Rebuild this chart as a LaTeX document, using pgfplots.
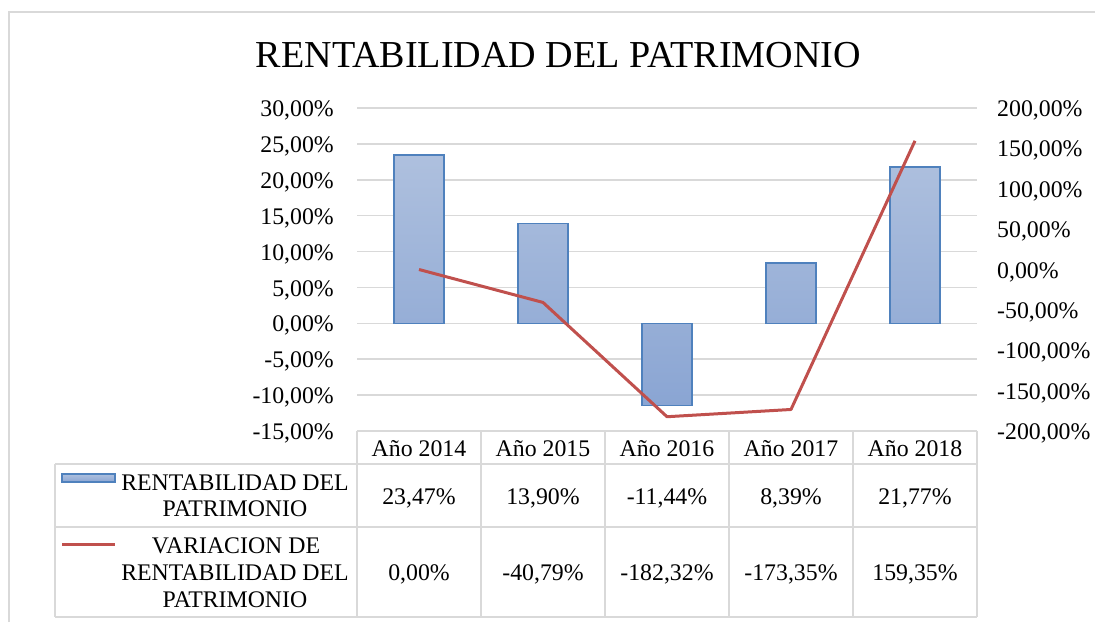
\documentclass[border=0pt]{standalone}
\usepackage{pgfplots}
\pgfplotsset{compat=1.18}
\usepackage{fontspec}
\setmainfont{Liberation Serif}
\definecolor{gridc}{HTML}{D9D9D9}
\definecolor{barEdge}{HTML}{4F81BD}
\definecolor{barTop}{HTML}{AEC0DE}
\definecolor{barBot}{HTML}{8AA5D3}
\definecolor{lineRed}{HTML}{C0504D}
\newcommand\tf{\fontsize{23.8}{26}\selectfont}
\begin{document}
\begin{tikzpicture}
\useasboundingbox (0,0) rectangle (1095pt,622pt);
\begin{axis}[at={(357pt,191pt)}, anchor=south west, scale only axis,
  width=620pt, height=323pt,
  xmin=-0.5, xmax=4.5, ymin=-15, ymax=30,
  xtick=\empty,
  ytick={-15,-10,...,30},
  yticklabels={{-15,00\%},{-10,00\%},{-5,00\%},{0,00\%},{5,00\%},{10,00\%},{15,00\%},{20,00\%},{25,00\%},{30,00\%}},
  axis line style={draw=none}, major tick length=0pt,
  ymajorgrids, grid style={gridc, line width=1.5pt},
  tick label style={font=\tf},
  yticklabel style={inner sep=0pt, anchor=east, xshift=-23pt, yshift=-2.5pt},
  clip=false]
\addplot[ybar, bar width=50pt, draw=barEdge, line width=1.5pt, top color=barTop, bottom color=barBot]
  coordinates {(0,23.47) (1,13.90) (2,-11.44) (3,8.39) (4,21.77)};
\end{axis}
\begin{axis}[at={(357pt,191pt)}, anchor=south west, scale only axis,
  width=620pt, height=323pt,
  xmin=-0.5, xmax=4.5, ymin=-200, ymax=200,
  xtick=\empty,
  ytick={-200,-150,...,200},
  yticklabels={{-200,00\%},{-150,00\%},{-100,00\%},{-50,00\%},{0,00\%},{50,00\%},{100,00\%},{150,00\%},{200,00\%}},
  yticklabel pos=right,
  axis line style={draw=none}, major tick length=0pt,
  tick label style={font=\tf},
  yticklabel style={inner sep=0pt, anchor=west, xshift=20pt, yshift=-2.5pt}]
\addplot[lineRed, line width=3pt, no marks, line join=round]
  coordinates {(0,0) (1,-40.79) (2,-182.32) (3,-173.35) (4,159.35)};
\end{axis}
\begin{scope}[x=1pt, y=-1pt, shift={(0pt,622pt)}]
  % outer frame
  \draw[gridc, line width=1.5pt] (9,622) -- (9,12) -- (1095,12);
  % title
  \node[anchor=base, inner sep=0pt, font=\fontsize{38.1}{40}\selectfont] at (558.5,68) {RENTABILIDAD DEL PATRIMONIO};
  % table grid
  \begin{scope}[gridc, line width=2pt]
    \draw (357,431) -- (977,431);
    \draw (55,464) -- (977,464);
    \draw (55,527) -- (977,527);
    \draw (55,617) -- (977,617);
    \draw (55,464) -- (55,617);
    \foreach \xx in {357,481,605,729,853,977} \draw (\xx,431) -- (\xx,617);
  \end{scope}
  % header
  \foreach \xx/\t in {419/{Año 2014},543/{Año 2015},667/{Año 2016},791/{Año 2017},915/{Año 2018}}
    \node[anchor=base, inner sep=0pt, font=\tf] at (\xx,456) {\t};
  \foreach \xx/\t in {419/{23,47\%},543/{13,90\%},667/{-11,44\%},791/{8,39\%},915/{21,77\%}}
    \node[anchor=base, inner sep=0pt, font=\tf] at (\xx,504) {\t};
  \foreach \xx/\t in {419/{0,00\%},543/{-40,79\%},667/{-182,32\%},791/{-173,35\%},915/{159,35\%}}
    \node[anchor=base, inner sep=0pt, font=\tf] at (\xx,580) {\t};
  % legend keys
  \draw[barEdge, line width=1.5pt, top color=barTop, bottom color=barBot] (62,474) rectangle (115,482);
  \draw[lineRed, line width=3pt] (62,544) -- (115,544);
  \node[anchor=base, inner sep=0pt, font=\tf] at (235,490) {RENTABILIDAD DEL};
  \node[anchor=base, inner sep=0pt, font=\tf] at (235,516) {PATRIMONIO};
  \node[anchor=base, inner sep=0pt, font=\tf] at (236,553) {VARIACION DE};
  \node[anchor=base, inner sep=0pt, font=\tf] at (235,580) {RENTABILIDAD DEL};
  \node[anchor=base, inner sep=0pt, font=\tf] at (235,607) {PATRIMONIO};
\end{scope}
\end{tikzpicture}
\end{document}
